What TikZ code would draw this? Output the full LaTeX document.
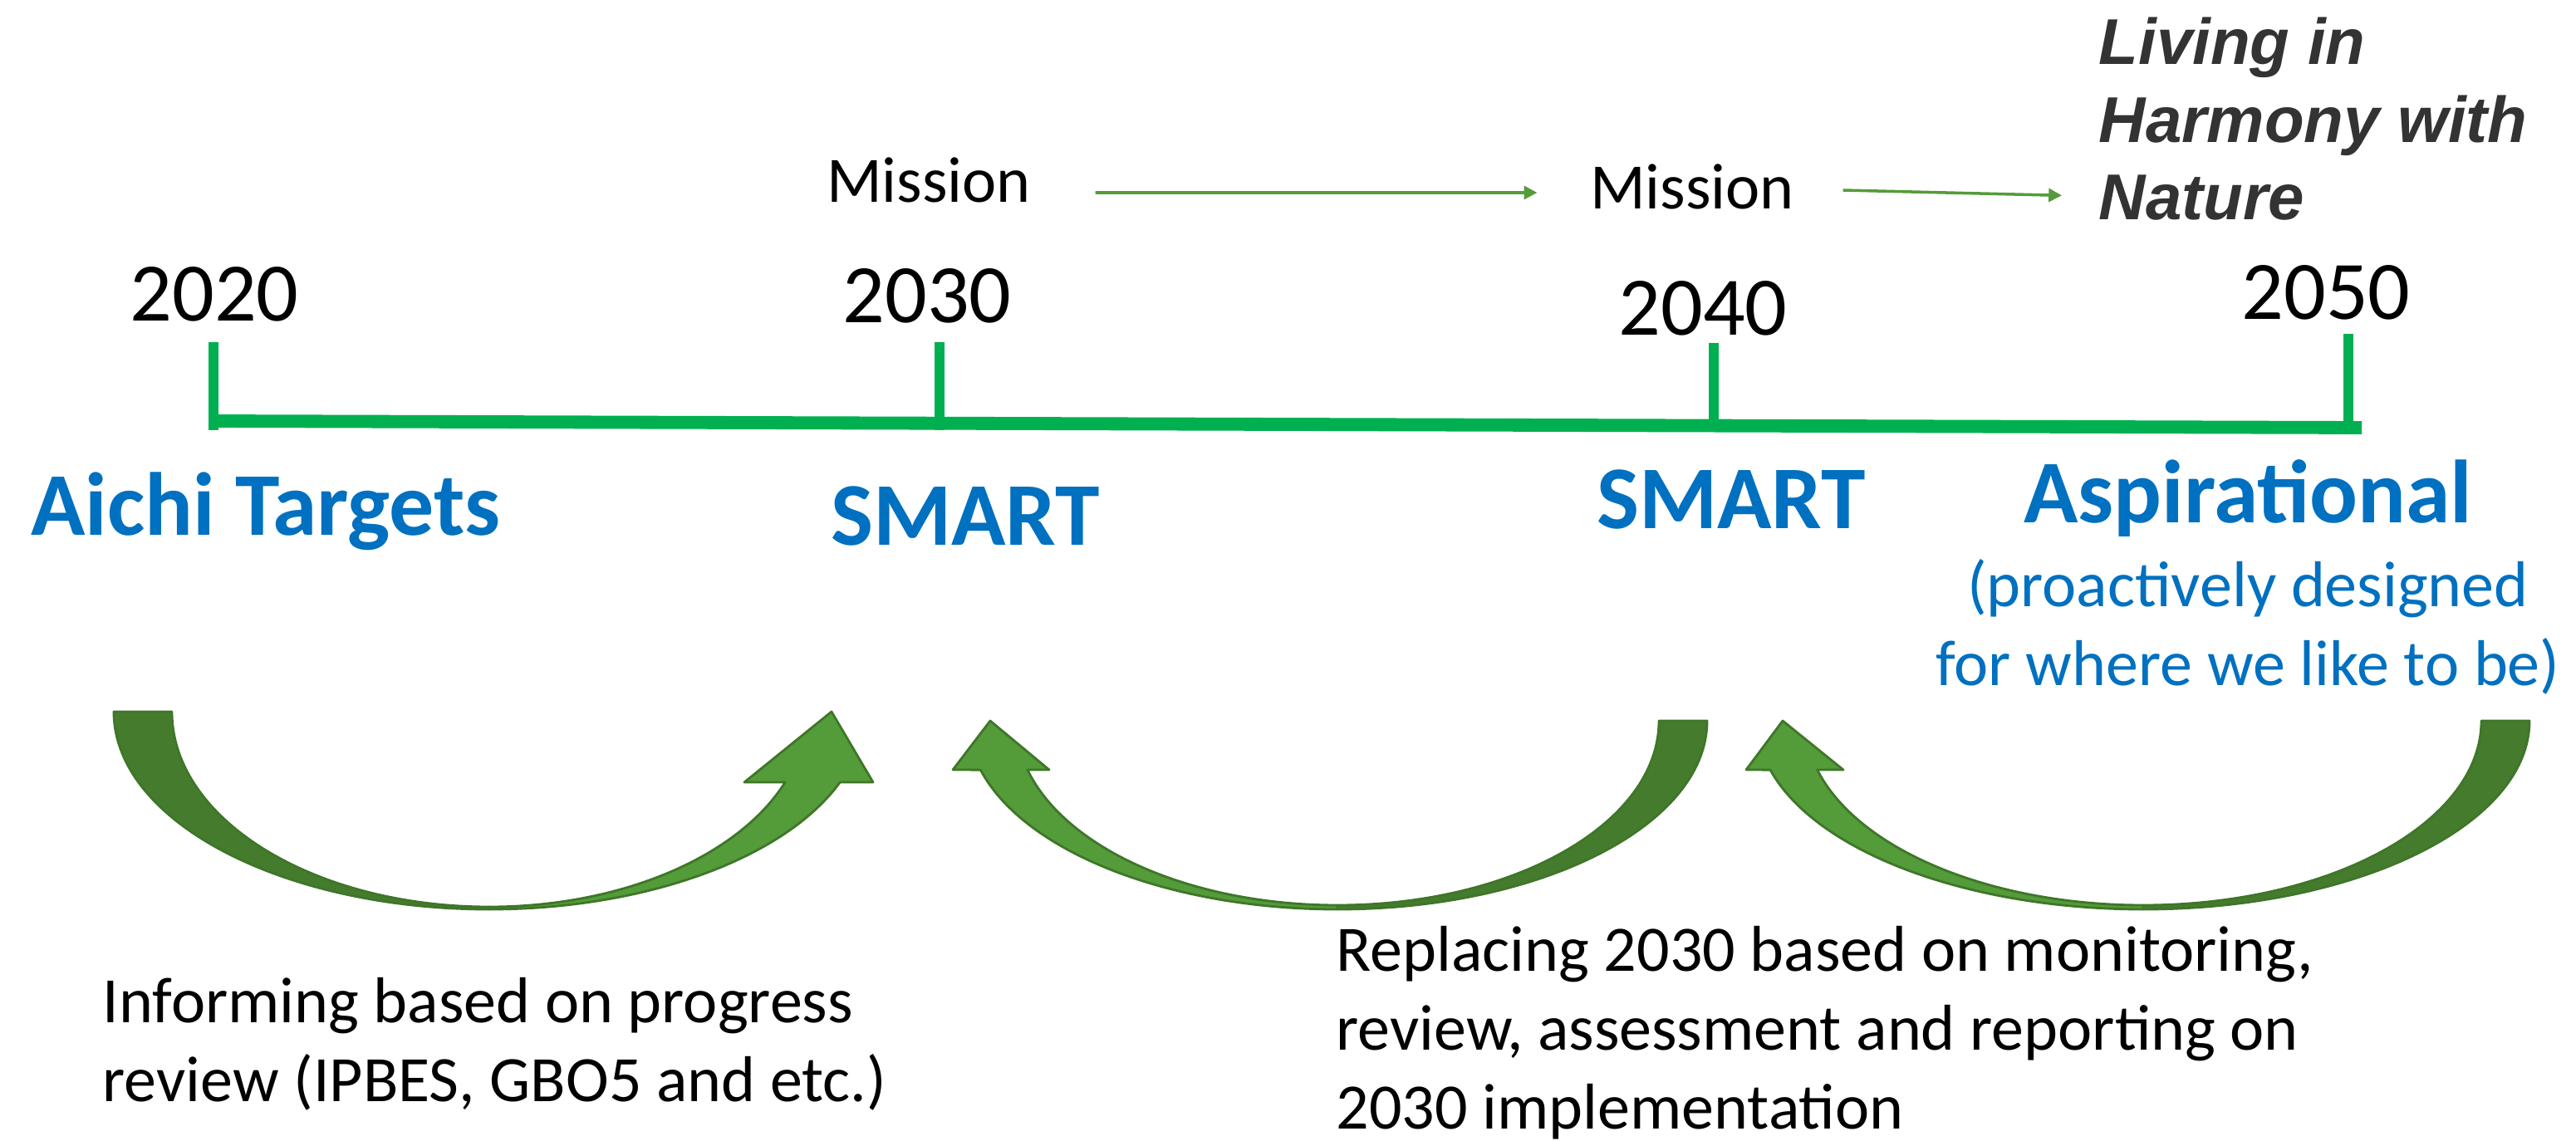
\documentclass[tikz,border=0pt]{standalone}
\usepackage{fontspec}
\setmainfont{Carlito}
\newfontfamily\harmonyfont{Liberation Sans}
\usetikzlibrary{calc,arrows.meta}
\definecolor{lineGreen}{HTML}{00B050}
\definecolor{arrDark}{HTML}{457B2D}
\definecolor{arrLight}{HTML}{539C39}
\definecolor{arrEdge}{HTML}{3F7629}
\definecolor{labelBlue}{HTML}{0070C0}
\definecolor{harmonyGray}{HTML}{333333}
\tikzset{
	year/.style={anchor=base, inner sep=0pt, font=\fontsize{28.5}{34}\selectfont},
	goal/.style={anchor=base, inner sep=0pt, text=labelBlue, font=\bfseries\fontsize{30.7}{37}\selectfont},
	note/.style={inner sep=0pt, font=\fontsize{22.2}{27}\selectfont},
	yeartick/.style={lineGreen, line width=3.4pt},
	misarrow/.style={arrLight, line width=1pt, -{Triangle[length=4.5pt,width=4.5pt]}},
	darkpart/.style={fill=arrDark, draw=arrEdge, line width=0.8pt, line join=round},
	lightpart/.style={fill=arrLight, draw=arrEdge, line width=0.8pt, line join=round},
}

\begin{document}
\begin{tikzpicture}
			%%%%% START %%%%%
			\useasboundingbox (0,0) rectangle (31.01,13.73);
			
			% timeline
			\draw[lineGreen, line width=4.5pt] (2.57,8.66) -- (28.43,8.58);
			\draw[yeartick] (2.57,8.55) -- (2.57,9.61);
			\draw[yeartick] (11.31,8.55) -- (11.31,9.61);
			\draw[yeartick] (20.63,8.55) -- (20.63,9.60);
			\draw[yeartick] (28.27,8.55) -- (28.27,9.71);
			
			\node[year] (y2020) at (2.58,9.86) {2020};
			\node[year] (y2030) at (11.16,9.85) {2030};
			\node[year] (y2040) at (20.50,9.70) {2040};
			\node[year] (y2050) at (28.00,9.89) {2050};
			
			% missions
			\node[note, anchor=base] (mis1) at (11.18,11.29) {Mission};
			\node[note, anchor=base] (mis2) at (20.37,11.21) {Mission};
			\node[anchor=north west, inner sep=0pt, align=left, text=harmonyGray,
				font=\harmonyfont\bfseries\itshape\fontsize{22.2}{26.7}\selectfont] (harmony) at (25.26,13.53) {Living in\\Harmony with\\Nature};
			\draw[misarrow] ([xshift=7.7mm,yshift=1.2mm]mis1.base east) -- ([xshift=-6.3mm,yshift=2mm]mis2.base west);
			\draw[misarrow] ([xshift=5.8mm,yshift=2.3mm]mis2.base east) -- ([xshift=-4.4mm,yshift=3.1mm]harmony.south west);
			
			% target kinds
			\node[goal] (aichi) at (3.20,7.29) {Aichi Targets};
			\node[goal] (smart1) at (11.62,7.17) {SMART};
			\node[goal] (smart2) at (20.84,7.37) {SMART};
			\node[goal] (aspire) at (27.06,7.44) {Aspirational};
			\node[note, anchor=base, align=center, text=labelBlue] (aspnote) at (27.06,5.48) {(proactively designed\\for where we like to be)};
			
			% curved arrows
			\coordinate (c1) at (5.89,5.16);
			\coordinate (c2) at (16.10,5.05);
			\coordinate (c3) at (25.80,5.05);
			
			\filldraw[darkpart] ($(c1)+(180:4.52 and 2.38)$) arc[start angle=180, end angle=270, x radius=4.52, y radius=2.38]
				-- ($(c1)+(270:3.82 and 2.35)$) arc[start angle=270, end angle=180, x radius=3.82, y radius=2.35] -- cycle;
			\filldraw[lightpart] ($(c1)+(270:4.52 and 2.38)$) arc[start angle=270, end angle=339.1, x radius=4.52, y radius=2.38]
				-- (10.51,4.31) -- (10.01,5.16) -- (8.96,4.31)
				-- ($(c1)+(338.8:3.82 and 2.35)$) arc[start angle=338.8, end angle=270, x radius=3.82, y radius=2.35] -- cycle;
			
			\filldraw[darkpart] ($(c2)+(360:4.45 and 2.27)$) arc[start angle=360, end angle=270, x radius=4.45, y radius=2.27]
				-- ($(c2)+(270:3.87 and 2.22)$) arc[start angle=270, end angle=360, x radius=3.87, y radius=2.22] -- cycle;
			\filldraw[lightpart] ($(c2)+(270:4.45 and 2.27)$) arc[start angle=270, end angle=195.1, x radius=4.45, y radius=2.27]
				-- (11.47,4.46) -- (11.92,5.05) -- (12.63,4.46)
				-- ($(c2)+(195.4:3.87 and 2.22)$) arc[start angle=195.4, end angle=270, x radius=3.87, y radius=2.22] -- cycle;
			
			\filldraw[darkpart] ($(c3)+(360:4.65 and 2.27)$) arc[start angle=360, end angle=270, x radius=4.65, y radius=2.27]
				-- ($(c3)+(270:4.07 and 2.22)$) arc[start angle=270, end angle=360, x radius=4.07, y radius=2.22] -- cycle;
			\filldraw[lightpart] ($(c3)+(270:4.65 and 2.27)$) arc[start angle=270, end angle=195.1, x radius=4.65, y radius=2.27]
				-- (21.02,4.46) -- (21.46,5.05) -- (22.19,4.46)
				-- ($(c3)+(195.4:4.07 and 2.22)$) arc[start angle=195.4, end angle=270, x radius=4.07, y radius=2.22] -- cycle;
			
			% notes
			\node[note, anchor=base west, align=left] (inform) at (1.23,0.47) {Informing based on progress\\review (IPBES, GBO5 and etc.)};
			\node[note, anchor=base west, align=left] (replace) at (16.08,0.14) {Replacing 2030 based on monitoring,\\review, assessment and reporting on\\2030 implementation};
			
			%%%%% END %%%%%
\end{tikzpicture}
\end{document}
